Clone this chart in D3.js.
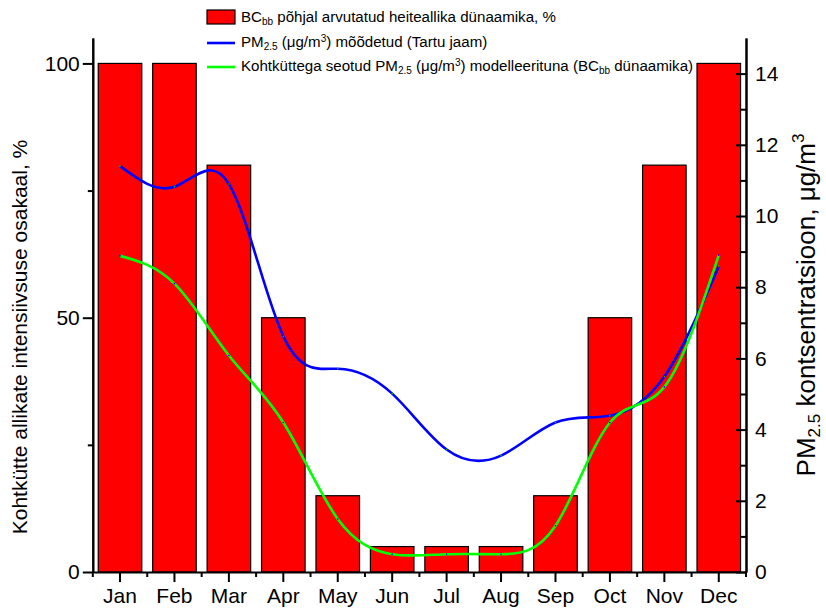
<!DOCTYPE html>
<html><head><meta charset="utf-8">
<script src="https://cdn.jsdelivr.net/npm/d3@7"></script>
<style>body{margin:0;background:#fff}svg{display:block;font-family:Arial,"Liberation Sans",sans-serif}</style>
</head><body>
<svg id="c" width="826" height="614"></svg>
<script>
const months = ["Jan","Feb","Mar","Apr","May","Jun","Jul","Aug","Sep","Oct","Nov","Dec"];
const bcShare = [100,100,80,50,15,5,5,5,15,50,80,100];
const pmMeasured = [11.4,10.82,10.9,6.62,5.71,5.01,3.44,3.27,4.2,4.39,5.49,8.59];
const pmModelled = [8.88,8.1,6.08,4.2,1.49,0.5,0.5,0.5,1.3,4.2,5.2,8.9];
const leftTicks = [0,50,100];
const rightTicks = [0,2,4,6,8,10,12,14];

const svg = d3.select("#c");
const X0 = 92.8, X1 = 746, Y0 = 572, YT = 38;
const x = d3.scaleBand().domain(months).range([X0, X1]).paddingInner(0.2).paddingOuter(0.1);
const xc = d => x(d) + x.bandwidth()/2;
const yL = d3.scaleLinear().domain([0,105]).range([Y0, YT]);
const yR = d3.scaleLinear().domain([0,15]).range([Y0, YT]);

// bars
svg.append("g").selectAll("rect").data(months).join("rect")
  .attr("x", d => x(d)).attr("width", x.bandwidth())
  .attr("y", (d,i) => yL(bcShare[i])).attr("height", (d,i) => Y0 - yL(bcShare[i]))
  .attr("fill", "#ff0000").attr("stroke", "#000").attr("stroke-width", 1.2);

// lines
const line = d3.line().x((d,i) => xc(months[i])).y(d => yR(d)).curve(d3.curveNatural);
svg.append("path").datum(pmMeasured).attr("d", line).attr("fill","none").attr("stroke","#0000ff").attr("stroke-width",2.6);
svg.append("path").datum(pmModelled).attr("d", line).attr("fill","none").attr("stroke","#00ff00").attr("stroke-width",2.6);
svg.append("g").selectAll("circle").data(pmMeasured).join("circle")
  .attr("cx",(d,i)=>xc(months[i])).attr("cy",d=>yR(d)).attr("r",0.8).attr("fill","#00cc00");
svg.append("g").selectAll("circle").data(pmModelled).join("circle")
  .attr("cx",(d,i)=>xc(months[i])).attr("cy",d=>yR(d)).attr("r",0.8).attr("fill","#0000ff");

// left axis
const gl = svg.append("g").attr("transform",`translate(${X0},0)`);
gl.call(d3.axisLeft(yL).tickValues(leftTicks).tickSize(10).tickSizeOuter(0).tickPadding(3));
gl.append("g").call(d3.axisLeft(yL).tickValues([25,75]).tickSize(5).tickSizeOuter(0).tickFormat(""));
// right axis
const gr = svg.append("g").attr("transform",`translate(${X1},0)`);
gr.call(d3.axisRight(yR).tickValues(rightTicks).tickSize(-10).tickSizeOuter(0).tickPadding(9));
gr.append("g").call(d3.axisRight(yR).tickValues([1,3,5,7,9,11,13]).tickSize(-5).tickSizeOuter(0).tickFormat(""));
// bottom axis
const gb = svg.append("g").attr("transform",`translate(0,${Y0})`);
gb.call(d3.axisBottom(x).tickSize(10).tickSizeOuter(0).tickPadding(6));
const edges = months.map(m => x(m) - x.step()*x.paddingInner()/2).concat([X1]);
edges[0] = X0;
gb.selectAll("line.minor").data(edges).join("line").attr("class","minor")
  .attr("x1",d=>d).attr("x2",d=>d).attr("y1",0).attr("y2",5).attr("stroke","#000").attr("stroke-width",2);
[gl,gr,gb].forEach(g => {
  g.selectAll("path.domain").attr("stroke","#000").attr("stroke-width",2);
  g.selectAll(".tick line").attr("stroke","#000").attr("stroke-width",2);
  g.selectAll(".tick text").attr("font-size",21).attr("fill","#000").attr("font-family","Arial, 'Liberation Sans', sans-serif");
});

// axis titles
svg.append("text").attr("transform","translate(27,337) rotate(-90)").attr("text-anchor","middle")
  .attr("font-size",21).text("Kohtkütte allikate intensiivsuse osakaal, %");
const rt = svg.append("text").attr("transform","translate(815,305) rotate(-90)").attr("text-anchor","middle").attr("font-size",26);
rt.append("tspan").text("PM");
rt.append("tspan").attr("font-size",17).attr("dy",5).text("2.5");
rt.append("tspan").attr("dy",-5).text(" kontsentratsioon, μg/m");
rt.append("tspan").attr("font-size",17).attr("dy",-11).text("3");

// legend
const lg = svg.append("g").attr("font-size",15.1);
lg.append("rect").attr("x",207).attr("y",10).attr("width",28).attr("height",14).attr("fill","#ff0000").attr("stroke","#000").attr("stroke-width",1.2);
const t1 = lg.append("text").attr("x",241).attr("y",22);
t1.append("tspan").text("BC"); t1.append("tspan").attr("font-size",10).attr("dy",3).text("bb");
t1.append("tspan").attr("dy",-3).text(" põhjal arvutatud heiteallika dünaamika, %");
lg.append("line").attr("x1",207).attr("x2",235).attr("y1",43).attr("y2",43).attr("stroke","#0000ff").attr("stroke-width",2.6);
const t2 = lg.append("text").attr("x",241).attr("y",47);
t2.append("tspan").text("PM"); t2.append("tspan").attr("font-size",10).attr("dy",3).text("2.5");
t2.append("tspan").attr("dy",-3).text(" (μg/m"); t2.append("tspan").attr("font-size",10).attr("dy",-5).text("3");
t2.append("tspan").attr("dy",5).text(") mõõdetud (Tartu jaam)");
lg.append("line").attr("x1",207).attr("x2",235).attr("y1",67).attr("y2",67).attr("stroke","#00ff00").attr("stroke-width",2.6);
const t3 = lg.append("text").attr("x",241).attr("y",71);
t3.append("tspan").text("Kohtküttega seotud PM"); t3.append("tspan").attr("font-size",10).attr("dy",3).text("2.5");
t3.append("tspan").attr("dy",-3).text(" (μg/m"); t3.append("tspan").attr("font-size",10).attr("dy",-5).text("3");
t3.append("tspan").attr("dy",5).text(") modelleerituna (BC");
t3.append("tspan").attr("font-size",10).attr("dy",3).text("bb");
t3.append("tspan").attr("dy",-3).text(" dünaamika)");
</script>
</body></html>
